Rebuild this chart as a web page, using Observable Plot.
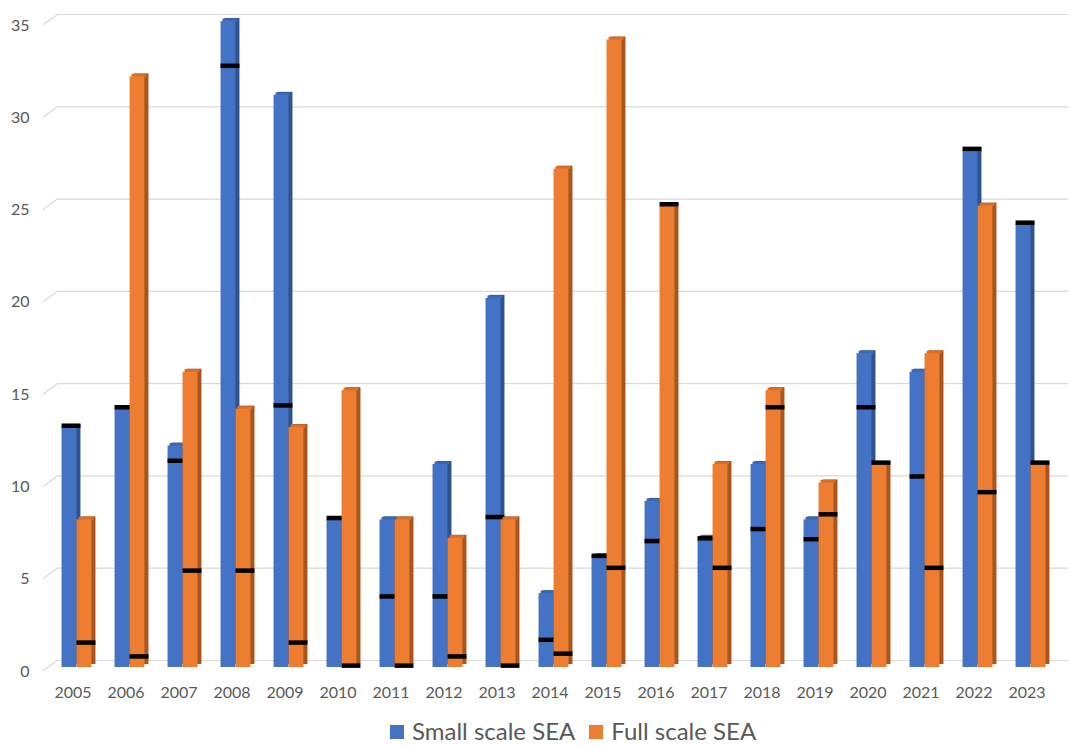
<!DOCTYPE html>
<html>
<head>
<meta charset="utf-8">
<script src="https://cdn.jsdelivr.net/npm/d3@7"></script>
<script src="https://cdn.jsdelivr.net/npm/@observablehq/plot@0.6"></script>
<style>
  html, body { margin: 0; padding: 0; background: #fff; }
  body { position: relative; width: 1070px; height: 746px; overflow: hidden; font-family: Lato, "Open Sans", sans-serif; }
  #chart { position: absolute; left: 0; top: 0; }
  #legend { position: absolute; left: 390px; top: 716px; display: flex; align-items: center; font-size: 24px; color: #595959; white-space: nowrap; }
  #legend .sw { display: inline-block; width: 14px; height: 14px; margin-right: 8px; margin-top: 3px; }
  #legend .item { display: flex; align-items: center; margin-right: 14px; }
</style>
</head>
<body>
<div id="chart"></div>
<div id="legend"></div>
<script>
// ---- data ----
const years = [2005, 2006, 2007, 2008, 2009, 2010, 2011, 2012, 2013, 2014, 2015, 2016, 2017, 2018, 2019, 2020, 2021, 2022, 2023];
const smallScaleSEA = [13, 14, 12, 35, 31, 8, 8, 11, 20, 4, 6, 9, 7, 11, 8, 17, 16, 28, 24];
const fullScaleSEA  = [8, 32, 16, 14, 13, 15, 8, 7, 8, 27, 34, 25, 11, 15, 10, 11, 17, 25, 11];
const smallMarker   = [13.1, 14.1, 11.2, 32.6, 14.2, 8.1, 3.85, 3.85, 8.15, 1.5, 6.05, 6.85, 7.0, 7.5, 6.95, 14.1, 10.35, 28.1, 24.1];
const fullMarker    = [1.35, 0.6, 5.25, 5.25, 1.35, 0.1, 0.1, 0.6, 0.1, 0.75, 5.4, 25.1, 5.4, 14.1, 8.3, 11.1, 5.4, 9.5, 11.1];
const yTicks = [0, 5, 10, 15, 20, 25, 30, 35];
const seriesNames = ["Small scale SEA", "Full scale SEA"];
const seriesColors = ["#4472C4", "#ED7D31"];
const sideColors = ["#2F538F", "#A9551C"];
const topColors = ["#3D67B3", "#D86E27"];

const rows = years.map((year, i) => ({
  year,
  small: smallScaleSEA[i],
  full: fullScaleSEA[i],
  smallMark: smallMarker[i],
  fullMark: fullMarker[i]
}));

const width = 1070, height = 712;
const marginLeft = 45, marginRight = 16, marginTop = 21, marginBottom = 45;
const band = (width - marginLeft - marginRight) / years.length;
const barW = 15;
const inset = (band - barW) / 2;

function layers(valueKey, markKey, dx, si) {
  const ins = {insetLeft: inset, insetRight: inset};
  return [
    Plot.barY(rows, {x: "year", y: valueKey, fill: sideColors[si], dx: dx + 4, dy: -3, ...ins}),
    Plot.tickY(rows, {x: "year", y: valueKey, stroke: topColors[si], strokeWidth: 3, dx: dx + 2, dy: -1.5, ...ins}),
    Plot.barY(rows, {x: "year", y: valueKey, fill: seriesColors[si], dx, ...ins}),
    Plot.tickY(rows, {x: "year", y: markKey, stroke: "#000", strokeWidth: 4.5, dx, insetLeft: inset, insetRight: inset - 4})
  ];
}

const chart = Plot.plot({
  width, height, marginLeft, marginRight, marginTop, marginBottom,
  style: {fontFamily: "Lato, 'Open Sans', sans-serif", fontSize: "16px", color: "#595959", background: "#fff"},
  x: {type: "band", domain: years, padding: 0, label: null},
  y: {domain: [0, 35], label: null},
  marks: [
    Plot.ruleY(yTicks, {stroke: "#d9d9d9", strokeWidth: 1.2, insetLeft: 13, insetRight: -14, dy: -7}),
    Plot.ruleY(yTicks, {
      render: (index, scales, values, dimensions) => {
        const g = d3.create("svg:g").attr("stroke", "#d9d9d9").attr("stroke-width", 1.2).attr("fill", "none");
        for (const i of index) {
          const y = values.y[i];
          g.append("path").attr("d", `M${dimensions.marginLeft - 2},${y + 4}L${dimensions.marginLeft + 13},${y - 7}`);
        }
        return g.node();
      }
    }),
    Plot.axisY({ticks: yTicks, tickSize: 0, tickPadding: 16, dy: 4, fontSize: 16, fill: "#595959", label: null}),
    Plot.axisX({tickSize: 0, tickPadding: 19, tickFormat: d => String(d), fontSize: 16, fill: "#595959", label: null}),
    ...layers("small", "smallMark", -3.5, 0),
    ...layers("full", "fullMark", 11.5, 1)
  ]
});
document.getElementById("chart").appendChild(chart);

const legend = document.getElementById("legend");
seriesNames.forEach((name, i) => {
  const item = document.createElement("span");
  item.className = "item";
  const sw = document.createElement("span");
  sw.className = "sw";
  sw.style.background = seriesColors[i];
  item.appendChild(sw);
  item.appendChild(document.createTextNode(name));
  legend.appendChild(item);
});
</script>
</body>
</html>
